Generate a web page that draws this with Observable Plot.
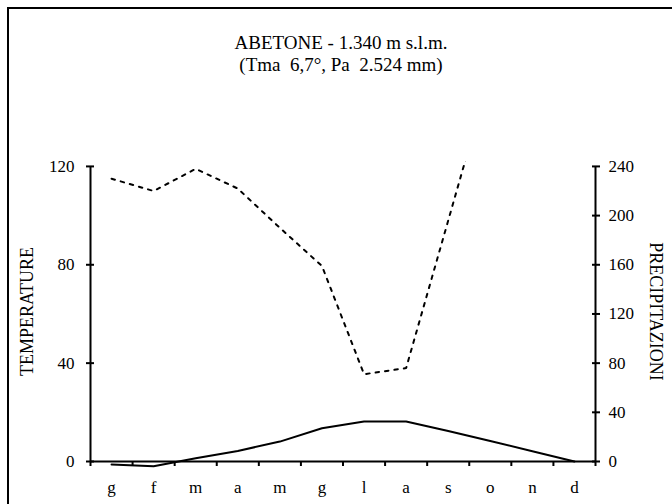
<!DOCTYPE html>
<html><head><meta charset="utf-8">
<script src="https://cdn.jsdelivr.net/npm/d3@7"></script>
<script src="https://cdn.jsdelivr.net/npm/@observablehq/plot@0.6"></script>
<style>
html,body{margin:0;padding:0;background:#fff;overflow:hidden;width:672px;height:504px;}
#wrap{position:relative;width:672px;height:504px;overflow:hidden;}
#border{position:absolute;left:7px;top:7px;width:800px;height:800px;border:2px solid #000;pointer-events:none;}
#chart{position:absolute;left:0;top:0;}
svg text{white-space:pre;font-family:"Liberation Serif","Times New Roman",serif !important;}
</style></head><body>
<div id="wrap"><div id="chart"></div><div id="border"></div></div>
<script>
const months = ["g","f","m","a","m","g","l","a","s","o","n","d"];
const temperature = [-1.2,-1.9,1.3,4.3,8.1,13.5,16.3,16.3,12.4,8.3,4.2,0.0];
const precipitation = [230,220,238,222,190,159,71,76,196,316,330,276];
const tempTicks = [0,40,80,120];
const precipTicks = [0,40,80,120,160,200,240];
const title = "ABETONE - 1.340 m s.l.m.";
const subtitle = "(Tma  6,7°, Pa  2.524 mm)";
const leftLabel = "TEMPERATURE";
const rightLabel = "PRECIPITAZIONI";

const data = months.map((m, i) => ({i, month: m, t: temperature[i], p: precipitation[i]}));
const idx = months.map((_, i) => i);
const bounds = d3.range(-0.5, months.length, 1);
const font = "'Liberation Serif', 'Times New Roman', serif";

const chart = Plot.plot({
  width: 672, height: 504,
  marginLeft: 90, marginRight: 77, marginTop: 161, marginBottom: 43,
  style: {fontFamily: font, fontSize: "17px", background: "white", color: "#000", overflow: "visible"},
  x: {type: "linear", domain: [-0.5, months.length - 0.5]},
  y: {domain: [0, 122]},
  marks: [
    Plot.ruleX([-0.5], {y1: 0, y2: 120, strokeWidth: 2}),
    Plot.ruleX([months.length - 0.5], {y1: 0, y2: 120, strokeWidth: 2}),
    Plot.ruleY([0], {x1: -0.5, x2: months.length - 0.5, strokeWidth: 2}),
    Plot.axisY(tempTicks, {anchor: "left", label: null, tickSize: 8, dx: 4, tickPadding: 12, strokeWidth: 2, fontSize: 17}),
    Plot.axisY(precipTicks.map(v => v / 2), {anchor: "right", label: null, tickSize: 8, dx: -4, tickPadding: 9, strokeWidth: 2, fontSize: 17, tickFormat: v => String(v * 2)}),
    Plot.axisX(bounds, {anchor: "bottom", label: null, tickSize: 5, strokeWidth: 2, tickFormat: () => ""}),
    Plot.axisX(idx, {anchor: "bottom", label: null, tickSize: 0, tickPadding: 19, fontSize: 17, tickFormat: i => months[i]}),
    Plot.lineY(data, {x: "i", y: "t", stroke: "#000", strokeWidth: 2}),
    Plot.lineY(data, {x: "i", y: d => d.p / 2, stroke: "#000", strokeWidth: 2, strokeDasharray: "3.5,6", clip: true}),
    Plot.text([leftLabel], {frameAnchor: "left", dx: -63, rotate: -90, fontSize: 18, textAnchor: "middle", lineAnchor: "middle"}),
    Plot.text([rightLabel], {frameAnchor: "right", dx: 60, rotate: 90, fontSize: 18, textAnchor: "middle", lineAnchor: "middle"}),
    Plot.text([title], {frameAnchor: "top", dy: -119, dx: -2, fontSize: 19, textAnchor: "middle", lineAnchor: "middle"}),
    Plot.text([subtitle], {frameAnchor: "top", dy: -97, dx: -2, fontSize: 19, textAnchor: "middle", lineAnchor: "middle"})
  ]
});
document.getElementById("chart").appendChild(chart);
</script>
</body></html>
